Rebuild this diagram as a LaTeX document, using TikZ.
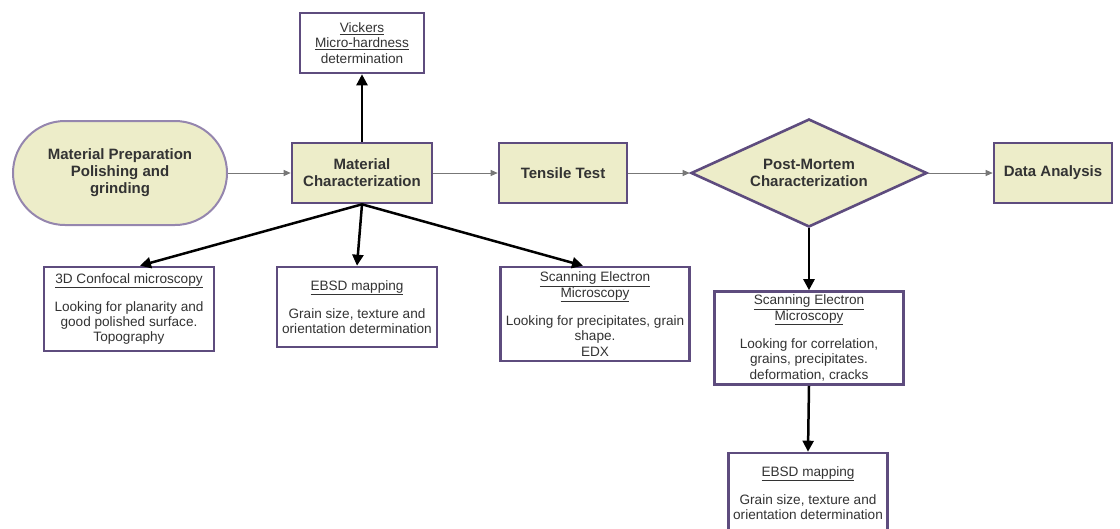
\documentclass[tikz,border=0pt]{standalone}
\usepackage{fontspec}
\setmainfont{Liberation Sans}
\usetikzlibrary{arrows.meta,positioning,calc,shapes.geometric}
\definecolor{FlowFill}{HTML}{EDEDC9}
\definecolor{FlowPurple}{HTML}{5E4C7E}
\definecolor{FlowLilac}{HTML}{9586AE}
\definecolor{FlowText}{HTML}{333333}
\definecolor{FlowGray}{HTML}{777777}
\tikzset{
  mainbox/.style={draw=FlowPurple, line width=2.6pt, fill=FlowFill, align=center, text=FlowText, font=\fontsize{15}{17}\selectfont\bfseries, inner sep=2pt},
  startbox/.style={draw=FlowLilac, line width=2pt, fill=FlowFill, rounded corners=52pt, align=center, text=FlowText, font=\fontsize{15}{17}\selectfont\bfseries, minimum width=214pt, minimum height=104pt},
  decbox/.style={diamond, aspect=2.2, draw=FlowPurple, line width=2.6pt, fill=FlowFill, align=center, text=FlowText, font=\fontsize{15}{17}\selectfont\bfseries, minimum width=236pt, minimum height=108pt, inner sep=0pt},
  notebox/.style={draw=FlowPurple, line width=2.6pt, fill=white, align=center, text=FlowText, font=\fontsize{13.6}{15.3}\selectfont, inner sep=1pt},
  flow/.style={-{Triangle[length=7pt,width=6pt]}, line width=1pt, draw=FlowGray},
  link/.style={-{Triangle[length=11pt,width=11pt]}, line width=2.5pt, draw=black}
}
\newcommand{\ul}[1]{\underline{#1}}
\begin{document}
\begin{tikzpicture}[x=1pt, y=-1pt]
\useasboundingbox (0,0) rectangle (1120,528);
% main row
\node[startbox] (prep) at (120,173) {Material Preparation\\Polishing and\\grinding};
\node[mainbox, minimum width=140pt, minimum height=60pt] (mc) at (362,173) {Material\\Characterization};
\node[mainbox, minimum width=128pt, minimum height=60pt] (tensile) at (563,173) {Tensile Test};
\node[decbox] (pm) at (809,173) {Post-Mortem\\Characterization};
\node[mainbox, minimum width=118pt, minimum height=60pt] (data) at (1053,173) {Data Analysis};
% characterization boxes
\node[notebox, minimum width=124pt, minimum height=60pt] (vickers) at (362,43) {\ul{Vickers}\\\ul{Micro-hardness}\\determination};
\node[notebox, minimum width=170pt, minimum height=84pt] (confocal) at (129,309) {\ul{3D Confocal microscopy}\\[13pt]Looking for planarity and\\good polished surface.\\Topography};
\node[notebox, minimum width=160pt, minimum height=80pt] (ebsd) at (357,307) {\ul{EBSD mapping}\\[13pt]Grain size, texture and\\orientation determination};
\node[notebox, minimum width=189pt, minimum height=94pt] (sem) at (595,314) {\ul{Scanning Electron}\\\ul{Microscopy}\\[13pt]Looking for precipitates, grain\\shape.\\EDX};
% post-mortem boxes
\node[notebox, minimum width=189pt, minimum height=93pt] (pmsem) at (809,338) {\ul{Scanning Electron}\\\ul{Microscopy}\\[13pt]Looking for correlation,\\grains, precipitates.\\deformation, cracks};
\node[notebox, minimum width=159pt, minimum height=80pt] (pmebsd) at (808,493) {\ul{EBSD mapping}\\[13pt]Grain size, texture and\\orientation determination};
% connectors
\draw[flow] (prep) -- (mc);
\draw[flow] (mc) -- (tensile);
\draw[flow] (tensile) -- (pm);
\draw[flow] (pm) -- (data);
\draw[link] (mc.north) -- (vickers.south);
\draw[link] (mc.south) -- ([xshift=11pt]confocal.north);
\draw[link] (mc.south) -- (ebsd.north);
\draw[link] (mc.south) -- ([xshift=-12pt]sem.north);
\draw[link] (pm.south) -- (pmsem.north);
\draw[link] (pmsem.south) -- (pmebsd.north);
\end{tikzpicture}
\end{document}
